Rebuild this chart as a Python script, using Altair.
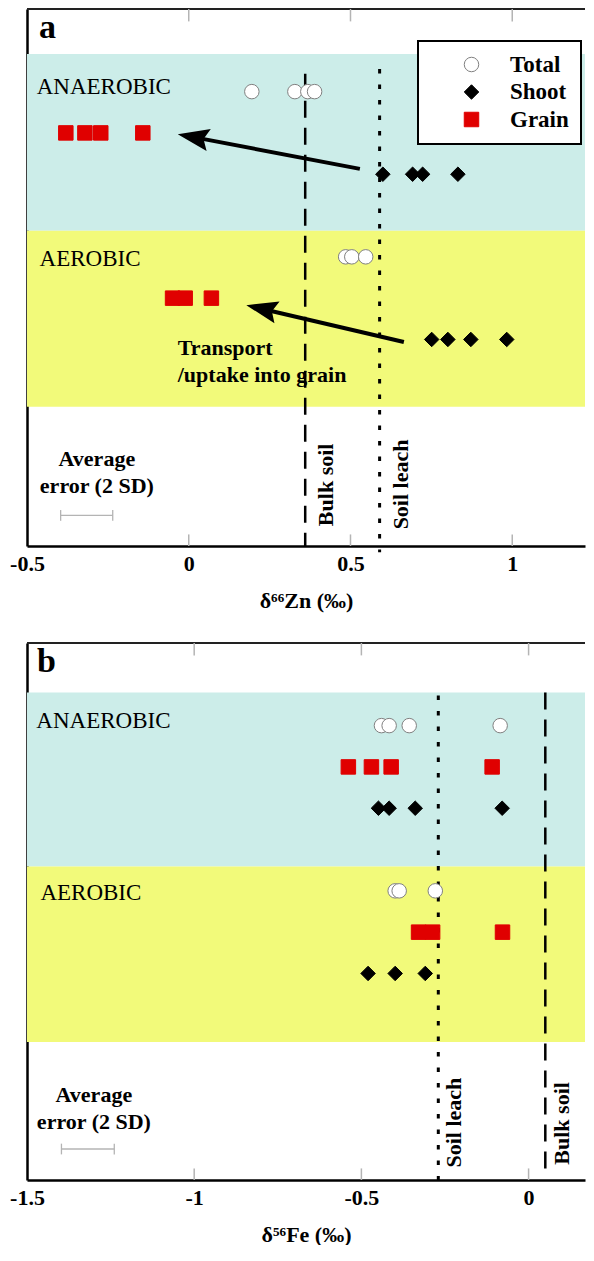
import math
import altair as alt
import pandas as pd

# ---------------- data ----------------
TYPES = ["Total", "Shoot", "Grain"]
TYPE_SHAPES = ["circle", "diamond", "square"]
TYPE_FILLS = ["white", "black", "#e00000"]
TYPE_STROKES = ["#808080", "black", "#e00000"]

# row position of each series (arbitrary vertical units, 13 = top of panel)
ROW_ANAEROBIC = {"Total": 11, "Grain": 10, "Shoot": 9}
ROW_AEROBIC = {"Total": 7, "Grain": 6, "Shoot": 5}

# Panel a : delta66Zn (permil)
ZN_TOTAL_ANAEROBIC = [0.195, 0.328, 0.368, 0.389]
ZN_GRAIN_ANAEROBIC = [-0.380, -0.321, -0.272, -0.142]
ZN_SHOOT_ANAEROBIC = [0.600, 0.692, 0.723, 0.832]
ZN_TOTAL_AEROBIC = [0.485, 0.504, 0.547]
ZN_GRAIN_AEROBIC = [-0.050, -0.011, 0.070]
ZN_SHOOT_AEROBIC = [0.751, 0.801, 0.872, 0.983]
ZN_BULK_SOIL = 0.36
ZN_SOIL_LEACH = 0.59
ZN_ERROR_BAR = [-0.396, -0.235]
ZN_TICKS = [-0.5, 0, 0.5, 1]

# Panel b : delta56Fe (permil)
FE_TOTAL_ANAEROBIC = [-0.440, -0.417, -0.357, -0.085]
FE_GRAIN_ANAEROBIC = [-0.539, -0.470, -0.411, -0.109]
FE_SHOOT_ANAEROBIC = [-0.449, -0.417, -0.339, -0.079]
FE_TOTAL_AEROBIC = [-0.399, -0.387, -0.279]
FE_GRAIN_AEROBIC = [-0.329, -0.287, -0.078]
FE_SHOOT_AEROBIC = [-0.480, -0.399, -0.309]
FE_BULK_SOIL = 0.05
FE_SOIL_LEACH = -0.27
FE_ERROR_BAR = [-1.397, -1.239]
FE_TICKS = [-1.5, -1, -0.5, 0]

# ---------------- layout / style ----------------
W, H = 558, 537
Y_DOM = [0, 13]
ZN_DOM = [-0.5, 1.2249]
FE_DOM = [-1.5, 0.1687]
FONT = "Liberation Serif"
CYAN = "#ccede9"
YELLOW = "#f2fa7a"
TICK_GREY = "#b4b4b4"
ARROW_HEAD = "M0,0L2.1,-0.75L1.75,0L2.1,0.75Z"


def points_frame(series):
    rows = []
    for rowmap, typ, xs in series:
        for v in xs:
            rows.append({"x": v, "y": rowmap[typ], "type": typ})
    return pd.DataFrame(rows)


def panel(dom, ticks, title, series, bulk, leach, err, bands, ann, legend):
    xs = alt.Scale(domain=dom, nice=False, zero=False)
    ys = alt.Scale(domain=Y_DOM, nice=False, zero=False)
    x_axis = alt.Axis(
        values=ticks, labelExpr="toString(datum.value)", title=title,
        domain=True, domainColor="black", domainWidth=2.5,
        ticks=False, grid=False, labelFlush=False, labelOverlap=False,
        labelFont=FONT, labelFontSize=22, labelFontWeight="bold",
        labelColor="black", labelPadding=7,
        titleFont=FONT, titleFontSize=22, titleFontWeight="bold",
        titleColor="black", titlePadding=16)
    y_axis = alt.Axis(domain=True, domainColor="black", domainWidth=2.5,
                      ticks=False, labels=False, grid=False, title=None)

    def X(f):
        return alt.X(f, scale=xs, axis=x_axis)

    def Y(f):
        return alt.Y(f, scale=ys, axis=y_axis)

    inner = [t for t in ticks if t > dom[0]]
    layers = []

    # background bands
    for (lo, hi), col in zip(bands, [CYAN, YELLOW]):
        bdf = pd.DataFrame([{"x": dom[0], "x2": dom[1], "y": lo, "y2": hi}])
        layers.append(alt.Chart(bdf).mark_rect(color=col).encode(
            x=X("x:Q"), x2="x2:Q", y=Y("y:Q"), y2="y2:Q"))

    # top frame line
    top_df = pd.DataFrame([{"x": dom[0], "x2": dom[1], "y": Y_DOM[1]}])
    layers.append(alt.Chart(top_df).mark_rule(color="#222", strokeWidth=2).encode(
        x=X("x:Q"), x2="x2:Q", y=Y("y:Q")))

    # inward tick marks (top and bottom)
    tk = pd.DataFrame(
        [{"x": t, "y": Y_DOM[1], "y2": Y_DOM[1] - 0.3} for t in inner]
        + [{"x": t, "y": Y_DOM[0], "y2": Y_DOM[0] + 0.28} for t in inner])
    layers.append(alt.Chart(tk).mark_rule(color=TICK_GREY, strokeWidth=1.5).encode(
        x=X("x:Q"), y=Y("y:Q"), y2="y2:Q"))

    # average error bar
    eb = pd.DataFrame([{"x": err[0], "x2": err[1], "y": ann["err_y"]}])
    layers.append(alt.Chart(eb).mark_rule(color=TICK_GREY, strokeWidth=1.3).encode(
        x=X("x:Q"), x2="x2:Q", y=Y("y:Q")))
    caps = pd.DataFrame([{"x": v, "y": ann["err_y"] - 0.13, "y2": ann["err_y"] + 0.13} for v in err])
    layers.append(alt.Chart(caps).mark_rule(color=TICK_GREY, strokeWidth=1.3).encode(
        x=X("x:Q"), y=Y("y:Q"), y2="y2:Q"))

    # reference lines
    dash_df = pd.DataFrame([{"x": bulk, "y": ann["bulk_top"], "y2": ann["bulk_bot"]}])
    layers.append(alt.Chart(dash_df).mark_rule(color="black", strokeWidth=2.5,
                                               strokeDash=[17, 10]).encode(
        x=X("x:Q"), y=Y("y:Q"), y2="y2:Q"))
    dot_df = pd.DataFrame([{"x": leach, "y": ann["leach_top"], "y2": ann["leach_bot"]}])
    layers.append(alt.Chart(dot_df).mark_rule(color="black", strokeWidth=3,
                                              strokeDash=[4.5, 11]).encode(
        x=X("x:Q"), y=Y("y:Q"), y2="y2:Q"))

    # texts
    def text_layer(rows, **mk):
        df = pd.DataFrame(rows, columns=["t", "x", "y"])
        return alt.Chart(df).mark_text(font=FONT, color="black", **mk).encode(
            x=X("x:Q"), y=Y("y:Q"), text="t:N")

    layers.append(text_layer(ann["regular"], fontSize=23, align="left", baseline="alphabetic"))
    layers.append(text_layer(ann["letter"], fontSize=34, fontWeight="bold", clip=True,
                             align="center", baseline="alphabetic"))
    layers.append(text_layer(ann["avg"], fontSize=22, fontWeight="bold",
                             align="center", baseline="alphabetic"))
    layers.append(text_layer(ann["rot"], fontSize=22, fontWeight="bold", angle=270,
                             align="center", baseline="middle"))
    if ann.get("bold_left"):
        layers.append(text_layer(ann["bold_left"], fontSize=22, fontWeight="bold",
                                 align="left", baseline="alphabetic"))

    # arrows
    if ann.get("arrows"):
        sx = W / (dom[1] - dom[0])
        sy = H / (Y_DOM[1] - Y_DOM[0])
        rows = []
        for (tx, ty), (hx, hy) in ann["arrows"]:
            dxp = (tx - hx) * sx
            dyp = -(ty - hy) * sy
            L = math.hypot(dxp, dyp)
            f = 20.0 / L
            rows.append({"tx": tx, "ty": ty, "hx": hx, "hy": hy,
                         "ex": hx + f * (tx - hx), "ey": hy + f * (ty - hy),
                         "ang": (math.degrees(math.atan2(dyp, dxp)) + 360) % 360})
        adf = pd.DataFrame(rows)
        layers.append(alt.Chart(adf).mark_rule(color="black", strokeWidth=4).encode(
            x=X("tx:Q"), y=Y("ty:Q"), x2="ex:Q", y2="ey:Q"))
        layers.append(alt.Chart(adf).mark_point(shape=ARROW_HEAD, filled=True, color="black",
                                                size=900, opacity=1).encode(
            x=X("hx:Q"), y=Y("hy:Q"), angle=alt.Angle("ang:Q", scale=None)))

    # data points
    pts = points_frame(series)
    if legend:
        lg = alt.Legend(orient="none", legendX=391, legendY=32, title=None,
                        fillColor="white", strokeColor="black", padding=12,
                        symbolOffset=30, labelOffset=27, rowPadding=3.5,
                        labelFont=FONT, labelFontSize=23, labelFontWeight="bold",
                        labelColor="black", symbolSize=210, symbolStrokeWidth=1)
    else:
        lg = None
    layers.append(alt.Chart(pts).mark_point(filled=True, size=210, strokeWidth=1,
                                            opacity=1).encode(
        x=X("x:Q"), y=Y("y:Q"),
        shape=alt.Shape("type:N", scale=alt.Scale(domain=TYPES, range=TYPE_SHAPES), legend=lg),
        fill=alt.Fill("type:N", scale=alt.Scale(domain=TYPES, range=TYPE_FILLS), legend=lg),
        stroke=alt.Stroke("type:N", scale=alt.Scale(domain=TYPES, range=TYPE_STROKES), legend=lg),
    ))
    return alt.layer(*layers).properties(width=W, height=H)


zn_series = [
    (ROW_ANAEROBIC, "Total", ZN_TOTAL_ANAEROBIC),
    (ROW_ANAEROBIC, "Grain", ZN_GRAIN_ANAEROBIC),
    (ROW_ANAEROBIC, "Shoot", ZN_SHOOT_ANAEROBIC),
    (ROW_AEROBIC, "Total", ZN_TOTAL_AEROBIC),
    (ROW_AEROBIC, "Grain", ZN_GRAIN_AEROBIC),
    (ROW_AEROBIC, "Shoot", ZN_SHOOT_AEROBIC),
]
fe_series = [
    (ROW_ANAEROBIC, "Total", FE_TOTAL_ANAEROBIC),
    (ROW_ANAEROBIC, "Grain", FE_GRAIN_ANAEROBIC),
    (ROW_ANAEROBIC, "Shoot", FE_SHOOT_ANAEROBIC),
    (ROW_AEROBIC, "Total", FE_TOTAL_AEROBIC),
    (ROW_AEROBIC, "Grain", FE_GRAIN_AEROBIC),
    (ROW_AEROBIC, "Shoot", FE_SHOOT_AEROBIC),
]

ann_a = {
    "regular": [("ANAEROBIC", -0.470, 10.94), ("AEROBIC", -0.461, 6.79)],
    "letter": [("a", -0.437, 12.29)],
    "avg": [("Average", -0.284, 1.94), ("error (2 SD)", -0.284, 1.29)],
    "rot": [("Bulk soil", 0.4235, 1.48), ("Soil leach", 0.655, 1.49)],
    "bold_left": [("Transport", -0.034, 4.62), ("/uptake into grain", -0.034, 3.98)],
    "arrows": [((0.529, 9.13), (-0.034, 9.97)), ((0.665, 4.94), (0.178, 5.83))],
    "err_y": 0.74,
    "bulk_top": 11.43, "bulk_bot": 0.0,
    "leach_top": 11.55, "leach_bot": -0.15,
}
ann_b = {
    "regular": [("ANAEROBIC", -1.472, 10.95), ("AEROBIC", -1.460, 6.79)],
    "letter": [("b", -1.442, 12.29)],
    "avg": [("Average", -1.30, 1.88), ("error (2 SD)", -1.30, 1.24)],
    "rot": [("Soil leach", -0.224, 1.39), ("Bulk soil", 0.099, 1.37)],
    "err_y": 0.75,
    "bulk_top": 11.8, "bulk_bot": 0.22,
    "leach_top": 11.73, "leach_bot": -0.07,
}

pa = panel(ZN_DOM, ZN_TICKS, "δ⁶⁶Zn (‰)", zn_series, ZN_BULK_SOIL, ZN_SOIL_LEACH,
           ZN_ERROR_BAR, [(7.63, 11.91), (3.37, 7.63)], ann_a, True)
pb = panel(FE_DOM, FE_TICKS, "δ⁵⁶Fe (‰)", fe_series, FE_BULK_SOIL, FE_SOIL_LEACH,
           FE_ERROR_BAR, [(7.59, 11.80), (3.34, 7.59)], ann_b, False)

chart = alt.vconcat(pa, pb, spacing=31).resolve_scale(
    shape="independent", fill="independent", stroke="independent"
).resolve_legend(
    shape="independent", fill="independent", stroke="independent"
).properties(
    padding={"left": 1, "top": 0, "right": 0, "bottom": 0},
    background="white",
).configure_view(stroke=None).configure_legend(strokeWidth=2)

chart.save("out.html", embed_options={"renderer": "svg", "actions": False})
